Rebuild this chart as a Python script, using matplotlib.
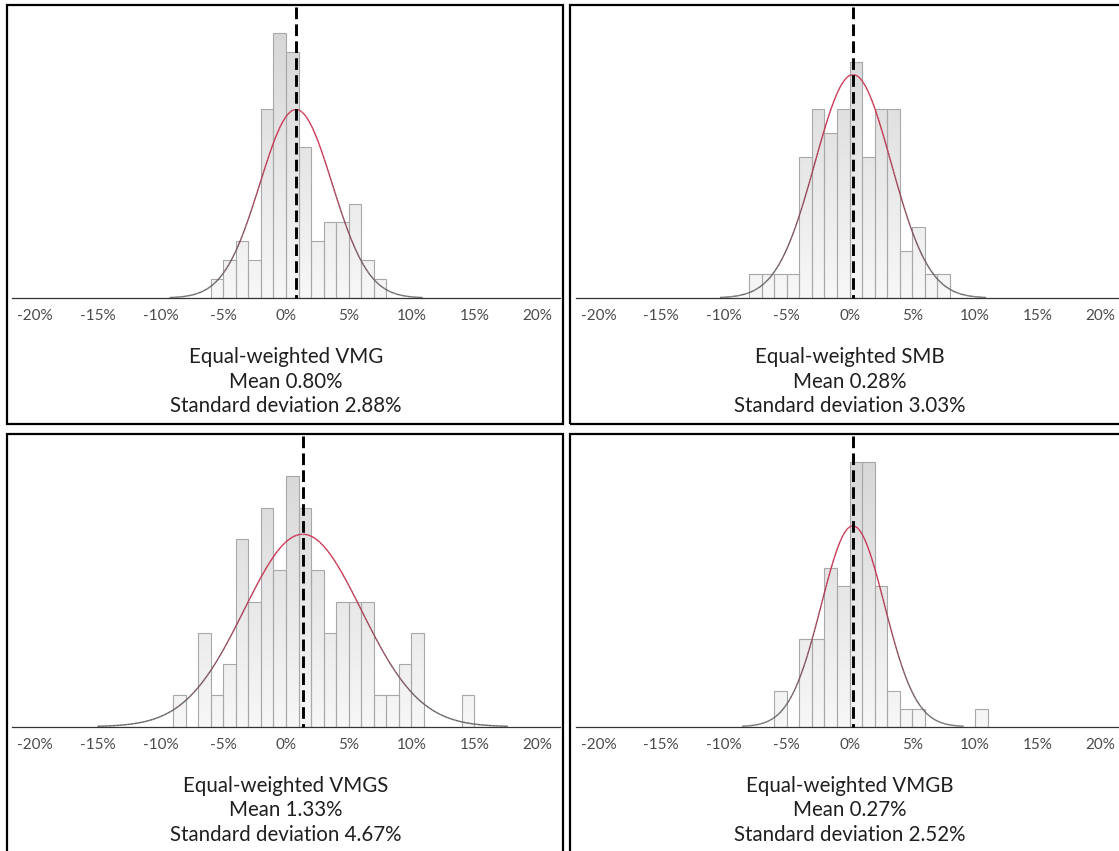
import numpy as np
import matplotlib
matplotlib.use("Agg")
import matplotlib.pyplot as plt
from matplotlib.collections import LineCollection
from matplotlib.colors import LinearSegmentedColormap, to_rgb
from matplotlib.patches import Rectangle

plt.rcParams['font.family'] = ['Lato', 'DejaVu Sans']

# datos (frecuencias por intervalo de 1%)
names = ['Equal-weighted VMG', 'Equal-weighted SMB', 'Equal-weighted VMGS', 'Equal-weighted VMGB']
means = [0.80, 0.28, 1.33, 0.27]
sds = [2.88, 3.03, 4.67, 2.52]
bin_start = [-6, -8, -9, -6]
vmg_counts = [1, 2, 3, 2, 10, 14, 13, 8, 3, 4, 4, 5, 2, 1]
smb_counts = [1, 1, 1, 1, 6, 8, 7, 8, 10, 6, 8, 8, 2, 3, 1, 1]
vmgs_counts = [1, 0, 3, 1, 2, 6, 4, 7, 5, 8, 7, 5, 3, 4, 4, 4, 1, 1, 2, 3, 0, 0, 0, 1]
vmgb_counts = [2, 0, 5, 5, 9, 8, 15, 15, 8, 2, 1, 1, 0, 0, 0, 0, 1]
all_counts = [vmg_counts, smb_counts, vmgs_counts, vmgb_counts]
tick_vals = [-20, -15, -10, -5, 0, 5, 10, 15, 20]

W, H = 1119, 851
fig = plt.figure(figsize=(W / 100, H / 100), dpi=100)

# posiciones en pixeles: (centro 0%, linea base, tope)
centers_x = [286, 849.5, 286, 849.5]
base_y = [298, 298, 726.7, 726.7]
top_y = [7, 7, 436, 436]
ymax = [15.4, 12.35, 9.29, 16.5]
px_per_pct = 12.55
xhalf = 21.8

# marcos negros de cada panel
frames = [(7, 5, 563, 424), (570, 5, 1130, 424), (7, 434, 563, 870), (570, 434, 1130, 870)]
for (x0, y0, x1, y1) in frames:
    fig.patches.append(Rectangle((x0 / W, 1 - y1 / H), (x1 - x0) / W, (y1 - y0) / H,
                                 transform=fig.transFigure, fill=False,
                                 edgecolor='black', lw=1.6, zorder=0))

cmap = LinearSegmentedColormap.from_list('g', ['#f7f7f7', '#d4d4d4'])
gray = np.array(to_rgb('#5c5c5c'))
red = np.array(to_rgb('#c9314f'))

for i in range(4):
    left = centers_x[i] - xhalf * px_per_pct
    ax = fig.add_axes([left / W, 1 - base_y[i] / H, 2 * xhalf * px_per_pct / W,
                       (base_y[i] - top_y[i]) / H])
    ax.patch.set_alpha(0)
    counts = np.array(all_counts[i])
    lefts = bin_start[i] + np.arange(len(counts))
    keep = counts > 0
    bars = ax.bar(lefts[keep], counts[keep], width=1, align='edge', facecolor='none',
                  edgecolor='#a8a8a8', lw=0.8, zorder=2)
    grad = np.linspace(0, 1, 256).reshape(-1, 1)
    for r in bars:
        im = ax.imshow(grad, extent=(-xhalf, xhalf, 0, ymax[i]), origin='lower',
                       cmap=cmap, aspect='auto', zorder=1)
        im.set_clip_path(r)

    # curva normal
    n = counts.sum()
    xs = np.linspace(means[i] - 3.5 * sds[i], means[i] + 3.5 * sds[i], 300)
    ys = n * np.exp(-0.5 * ((xs - means[i]) / sds[i]) ** 2) / (np.sqrt(2 * np.pi) * sds[i])
    pts = np.column_stack([xs, ys]).reshape(-1, 1, 2)
    segs = np.concatenate([pts[:-1], pts[1:]], axis=1)
    t = np.clip((ys[:-1] / ys.max()) ** 1.2 * 1.3, 0, 1).reshape(-1, 1)
    cols = gray * (1 - t) + red * t
    ax.add_collection(LineCollection(segs, colors=cols, lw=1.0, zorder=3))

    # linea de la media, de arriba hacia abajo
    ax.plot([means[i], means[i]], [ymax[i], 0], color='black', lw=2.1,
            dashes=(4, 1.8), zorder=4, clip_on=False)

    ax.set_xlim(-xhalf, xhalf)
    ax.set_ylim(0, ymax[i])
    for s in ['top', 'right', 'left']:
        ax.spines[s].set_visible(False)
    ax.spines['bottom'].set_color('#333333')
    ax.spines['bottom'].set_linewidth(0.9)
    ax.set_yticks([])
    ax.set_xticks(tick_vals)
    ax.set_xticklabels(['%d%%' % v for v in tick_vals])
    ax.tick_params(axis='x', length=0, pad=8, labelsize=11, labelcolor='#4a4a4a')

    lines = [names[i], 'Mean %.2f%%' % means[i], 'Standard deviation %.2f%%' % sds[i]]
    for k, txt in enumerate(lines):
        fig.text(centers_x[i] / W, 1 - (base_y[i] + 59 + 24.5 * k) / H, txt,
                 ha='center', va='center', fontsize=14.8, color='#1f1f1f')

fig.savefig('out.png', dpi=100)
